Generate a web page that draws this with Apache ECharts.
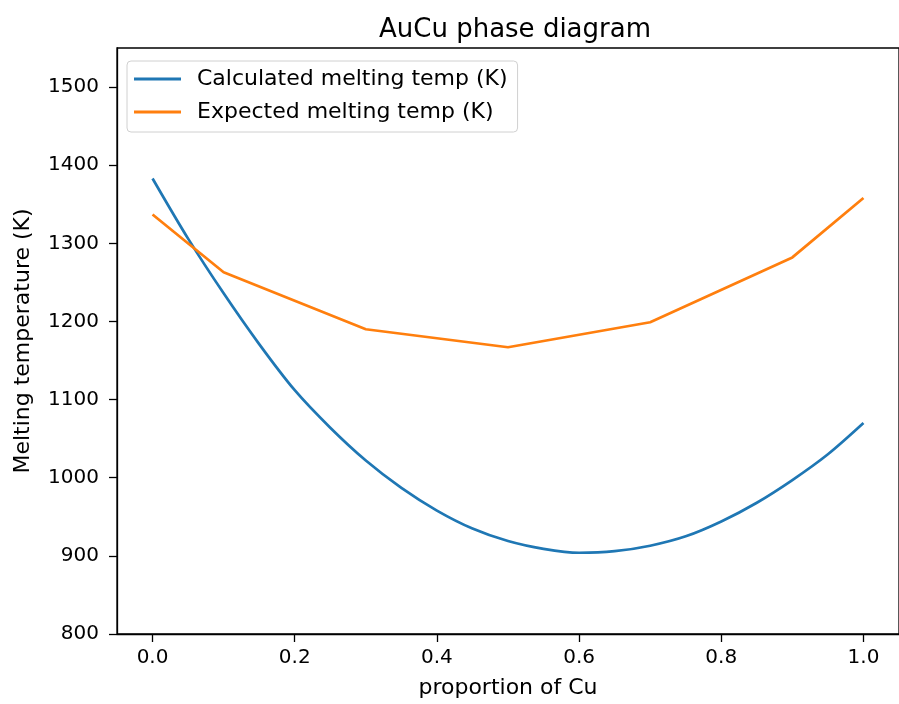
<!DOCTYPE html>
<html>
<head>
    <meta charset="utf-8"/>
    <title>AuCu phase diagram</title>
    <script src="https://cdn.jsdelivr.net/npm/echarts@6/dist/echarts.min.js"></script>
    <style>
        html, body { margin: 0; padding: 0; background: #fff; }
        #chart { width: 899px; height: 704px; }
    </style>
</head>
<body>
<div id="chart"></div>
<script>
    // proportion of Cu
    var xCalc = [0, 0.05, 0.1, 0.15, 0.2, 0.25, 0.3, 0.35, 0.4, 0.45, 0.5,
        0.55, 0.6, 0.65, 0.7, 0.75, 0.8, 0.85, 0.9, 0.95, 1.0];
    var calcTemp = [1383, 1306, 1236, 1171, 1112, 1064, 1022, 987, 958, 935, 919,
        909, 904, 906, 913, 925, 944, 968, 997, 1030, 1070];
    var xExp = [0, 0.1, 0.3, 0.5, 0.7, 0.9, 1.0];
    var expTemp = [1337, 1263, 1190, 1167, 1199, 1282, 1358];
    var xTicks = [0, 0.2, 0.4, 0.6, 0.8, 1.0];
    var yTicks = [800, 900, 1000, 1100, 1200, 1300, 1400, 1500];

    function pairs(xs, ys) {
        return xs.map(function (x, i) { return [x, ys[i]]; });
    }

    var font = 'DejaVu Sans';
    var myChart = echarts.init(document.getElementById('chart'));
    var option = {
        animation: false,
        color: ['#1f77b4', '#ff7f0e'],
        title: {
            text: 'AuCu phase diagram',
            left: 510,
            textAlign: 'center',
            top: 12,
            textStyle: { fontFamily: font, fontSize: 26, fontWeight: 'normal', color: '#000' }
        },
        legend: {
            orient: 'vertical',
            left: 127,
            top: 61,
            icon: 'rect',
            itemWidth: 47,
            itemHeight: 3,
            itemGap: 11,
            padding: [7, 10, 9, 7],
            borderColor: '#d0d0d0',
            borderWidth: 1,
            borderRadius: 4,
            backgroundColor: 'rgba(255,255,255,0.8)',
            textStyle: { fontFamily: font, fontSize: 22, color: '#000', padding: [0, 0, 0, 11] },
            data: ['Calculated melting temp (K)', 'Expected melting temp (K)']
        },
        grid: {
            left: 117,
            top: 48,
            right: -6,
            bottom: 69,
            show: true,
            borderColor: '#000',
            borderWidth: 1.3
        },
        xAxis: {
            type: 'value',
            min: -0.05,
            max: 1.05,
            name: 'proportion of Cu',
            nameLocation: 'middle',
            nameGap: 43,
            nameTextStyle: { fontFamily: font, fontSize: 22, color: '#000' },
            axisLine: { show: true, onZero: false, lineStyle: { color: '#000', width: 1.3 } },
            axisTick: { show: true, length: 8, customValues: xTicks, lineStyle: { color: '#000', width: 1.3 } },
            axisLabel: {
                customValues: xTicks,
                margin: 14,
                fontFamily: font,
                fontSize: 20,
                color: '#000',
                formatter: function (v) { return v.toFixed(1); }
            },
            splitLine: { show: false }
        },
        yAxis: {
            type: 'value',
            min: 800,
            max: 1550,
            name: 'Melting temperature (K)',
            nameLocation: 'middle',
            nameRotate: 90,
            nameGap: 83,
            nameTextStyle: { fontFamily: font, fontSize: 22, color: '#000' },
            axisLine: { show: true, onZero: false, lineStyle: { color: '#000', width: 1.3 } },
            axisTick: { show: true, length: 8, customValues: yTicks, lineStyle: { color: '#000', width: 1.3 } },
            axisLabel: {
                customValues: yTicks,
                margin: 18,
                fontFamily: font,
                fontSize: 20,
                color: '#000',
                formatter: function (v) { return String(v); }
            },
            splitLine: { show: false }
        },
        series: [{
            name: 'Calculated melting temp (K)',
            type: 'line',
            smooth: 0.3,
            symbol: 'none',
            lineStyle: { width: 2.7 },
            data: pairs(xCalc, calcTemp)
        }, {
            name: 'Expected melting temp (K)',
            type: 'line',
            symbol: 'none',
            lineStyle: { width: 2.7 },
            data: pairs(xExp, expTemp)
        }]
    };
    myChart.setOption(option);
</script>
</body>
</html>
